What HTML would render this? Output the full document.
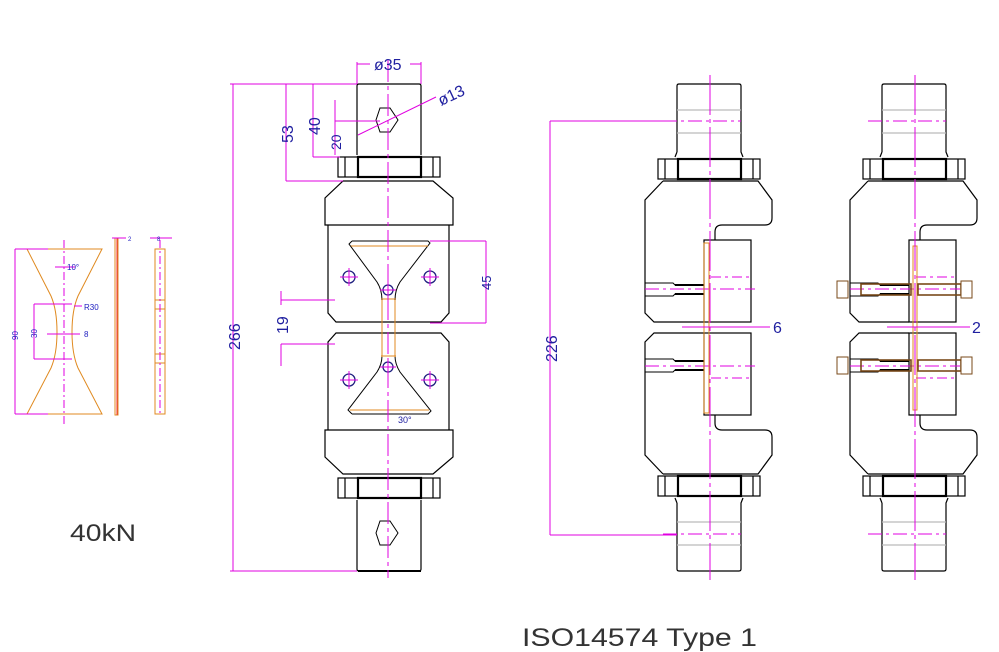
<!DOCTYPE html>
<html><head><meta charset="utf-8"><style>
html,body{margin:0;padding:0;background:#fff;}
svg{display:block;}
text{font-family:"Liberation Sans",sans-serif;}
</style></head><body>
<svg width="999" height="652" viewBox="0 0 999 652" xmlns="http://www.w3.org/2000/svg">
<defs>
<g id="chalf" fill="none" stroke="#000" stroke-width="1.2">
  <path d="M677,152 L677,86 Q677,84 679,84 L739,84 Q741,84 741,86 L741,152 L743,157 M677,152 L675,157"/>
  <line x1="677" y1="110" x2="741" y2="110" stroke="#bbb"/>
  <line x1="677" y1="133" x2="741" y2="133" stroke="#bbb"/>
  <rect x="658" y="159" width="102" height="20"/>
  <line x1="665" y1="159" x2="665" y2="179"/>
  <line x1="753" y1="159" x2="753" y2="179"/>
  <rect x="678" y="159" width="63" height="20" stroke-width="2.2"/>
  <path d="M663,181 L758,181 L772,200 L772,218 Q772,225 765,225 L722,225 Q715,225 715,232 L715,240"/>
  <path d="M663,181 L645,200 L645,313 L654,322 L704,322"/>
  <rect x="704" y="240" width="47" height="82"/>
  <path d="M645,283 L673,283 L675,285 L704,285 M645,296 L673,296 L675,294 L704,294" stroke-width="1"/>
  <line x1="675" y1="285" x2="704" y2="285" stroke-width="2"/>
  <line x1="675" y1="294" x2="704" y2="294" stroke-width="2"/>
  <line x1="645" y1="289" x2="755" y2="289" stroke="#e000e0" stroke-width="1" stroke-dasharray="14,4,3,4"/>
  <line x1="711" y1="277" x2="750" y2="277" stroke="#e000e0" stroke-width="1" stroke-dasharray="10,4,3,4"/>
  <line x1="663" y1="121" x2="741" y2="121" stroke="#e000e0" stroke-width="1" stroke-dasharray="14,4,3,4"/>
</g>
<g id="mhalf" fill="none" stroke="#000" stroke-width="1.2">
  <path d="M357,155 L357,86 Q357,84 359,84 L419,84 Q421,84 421,86 L421,155"/>
  <rect x="338" y="157" width="102" height="20"/>
  <line x1="345" y1="157" x2="345" y2="177"/>
  <line x1="433" y1="157" x2="433" y2="177"/>
  <rect x="358" y="157" width="63" height="20" stroke-width="2.2"/>
  <path d="M343,181 L433,181 L453,198 L453,225 L325,225 L325,198 Z"/>
  <path d="M328,225 L328,313 L336,322 L441,322 L449,313 L449,225"/>
</g>
</defs>

<g fill="none" stroke="#e08a20" stroke-width="1">
  <path d="M27,249 L102,249 L78,296 Q72,310 72,332 Q72,354 78,368 L102,414 L27,414 L51,368 Q57,354 57,332 Q57,310 51,296 Z"/>
  <rect x="115" y="238" width="3" height="177"/>
  <rect x="155" y="249" width="10" height="165"/>
  <line x1="155" y1="300" x2="165" y2="300"/><line x1="155" y1="309" x2="165" y2="309"/>
  <line x1="155" y1="354" x2="165" y2="354"/><line x1="155" y1="363" x2="165" y2="363"/>
</g>
<line x1="117" y1="238" x2="117" y2="415" stroke="#f03030" stroke-width="1"/>
<g stroke="#e000e0" stroke-width="1" fill="none">
  <line x1="64" y1="240" x2="64" y2="425" stroke-dasharray="8,3,2,3"/>
  <line x1="15" y1="249" x2="15" y2="414"/>
  <line x1="15" y1="249" x2="48" y2="249"/><line x1="15" y1="414" x2="48" y2="414"/>
  <line x1="34" y1="304" x2="72" y2="304"/><line x1="34" y1="359" x2="72" y2="359"/>
  <line x1="34" y1="304" x2="34" y2="359"/>
  <line x1="47" y1="334" x2="80" y2="334"/>
  <line x1="74" y1="306" x2="82" y2="306"/>
  <line x1="55" y1="267" x2="75" y2="267"/>
  <line x1="112" y1="238" x2="126" y2="238"/><line x1="150" y1="238" x2="172" y2="238"/>
  <line x1="160" y1="240" x2="160" y2="414" stroke-dasharray="8,3,2,3"/>
</g>
<g fill="#2020c0" font-size="8">
  <text x="84" y="310">R30</text>
  <text x="84" y="337">8</text>
  <text x="67" y="270">10°</text>
  <text x="128" y="241" font-size="6">2</text>
  <text x="157" y="241" font-size="6">8</text>
  <text transform="translate(18,340) rotate(-90)">90</text>
  <text transform="translate(37,338) rotate(-90)">30</text>
</g>
<text x="70" y="541" font-size="24" fill="#333" textLength="66" lengthAdjust="spacingAndGlyphs">40kN</text>

<use href="#mhalf"/>
<use href="#mhalf" transform="translate(0,655) scale(1,-1)"/>
<g fill="none" stroke="#000" stroke-width="1">
  <path d="M352,241 L428,241 L430,243 L400,282 Q395,290 395,300 L395,322 M352,241 L349,244 L377,282 Q382,290 382,300 L382,322"/>
  <path d="M352,414 L428,414 L431,411 L400,372 Q395,364 395,356 L395,335 M352,414 L348,410 L377,372 Q382,364 382,356 L382,335"/>
</g>
<g stroke="#e08a20" stroke-width="1">
  <line x1="351" y1="246" x2="428" y2="246"/>
  <line x1="350" y1="410" x2="429" y2="410"/>
  <line x1="382" y1="300" x2="382" y2="357"/><line x1="395" y1="300" x2="395" y2="357"/>
  <line x1="381" y1="299" x2="396" y2="299"/><line x1="381" y1="356" x2="396" y2="356"/>
</g>
<g fill="none" stroke="#202080" stroke-width="1.3">
  <circle cx="349" cy="277" r="6"/><circle cx="430" cy="277" r="6"/><circle cx="388" cy="290" r="5"/>
  <circle cx="349" cy="380" r="6"/><circle cx="430" cy="380" r="6"/><circle cx="388" cy="367" r="5"/>
</g>
<g stroke="#e000e0" stroke-width="1">
  <path d="M340,277h18M349,268v18M421,277h18M430,268v18M380,290h16M388,282v16M340,380h18M349,371v18M421,380h18M430,371v18M380,367h16M388,359v16"/>
</g>
<path d="M380,108 L390,108 L398,120 L390,132 L380,132 L376,120 Z M380,521 L390,521 L398,533 L390,545 L380,545 L376,533 Z" fill="none" stroke="#000" stroke-width="1"/>
<line x1="358" y1="571" x2="421" y2="571" stroke="#000" stroke-width="2"/>
<line x1="388" y1="60" x2="388" y2="578" stroke="#e000e0" stroke-width="1" stroke-dasharray="22,4,4,4"/>
<g stroke="#e000e0" stroke-width="1" fill="none">
  <line x1="233" y1="84" x2="233" y2="571"/>
  <line x1="230" y1="84" x2="357" y2="84"/><line x1="230" y1="571" x2="357" y2="571"/>
  <line x1="286" y1="84" x2="286" y2="181"/><line x1="286" y1="181" x2="343" y2="181"/>
  <line x1="313" y1="84" x2="313" y2="157"/><line x1="313" y1="157" x2="340" y2="157"/>
  <line x1="335" y1="100" x2="335" y2="155"/><line x1="335" y1="121" x2="380" y2="121"/>
  <line x1="357" y1="62" x2="357" y2="84"/><line x1="421" y1="62" x2="421" y2="84"/>
  <line x1="357" y1="64" x2="370" y2="64"/><line x1="410" y1="64" x2="421" y2="64"/>
  <line x1="358" y1="135" x2="436" y2="97"/>
  <line x1="430" y1="241" x2="486" y2="241"/><line x1="430" y1="323" x2="486" y2="323"/>
  <line x1="486" y1="241" x2="486" y2="323"/>
  <line x1="281" y1="291" x2="281" y2="305"/><line x1="281" y1="300" x2="335" y2="300"/>
  <line x1="281" y1="344" x2="335" y2="344"/><line x1="281" y1="344" x2="281" y2="366"/>
</g>
<g fill="#2020a0" font-size="16">
  <text x="374" y="70">ø35</text>
  <text transform="translate(441,106) rotate(-25)">ø13</text>
  <text transform="translate(240,350) rotate(-90)">266</text>
  <text transform="translate(293,143) rotate(-90)">53</text>
  <text transform="translate(320,135) rotate(-90)">40</text>
  <text transform="translate(341,150) rotate(-90)" font-size="14">20</text>
  <text transform="translate(491,290) rotate(-90)" font-size="13">45</text>
  <text transform="translate(288,334) rotate(-90)">19</text>
  <text x="398" y="423" font-size="9">30°</text>
</g>

<use href="#chalf"/>
<use href="#chalf" transform="translate(0,655) scale(1,-1)"/>
<rect x="704" y="243" width="5" height="170" fill="none" stroke="#e08a20" stroke-width="1"/>
<line x1="710" y1="75" x2="710" y2="580" stroke="#e000e0" stroke-width="1" stroke-dasharray="40,4,4,4"/>
<g stroke="#e000e0" stroke-width="1">
  <line x1="550" y1="121" x2="677" y2="121"/><line x1="550" y1="535" x2="677" y2="535"/>
  <line x1="550" y1="121" x2="550" y2="535"/>
  <line x1="682" y1="327" x2="770" y2="327"/>
</g>
<text transform="translate(557,362) rotate(-90)" font-size="16" fill="#2020a0">226</text>
<text x="773" y="333" font-size="16" fill="#2020a0">6</text>

<g transform="translate(205,0)"><use href="#chalf"/><use href="#chalf" transform="translate(0,655) scale(1,-1)"/></g>
<rect x="913" y="246" width="4" height="164" fill="none" stroke="#e08a20" stroke-width="1"/>
<g fill="none" stroke="#7a4a1a" stroke-width="1.6">
  <rect x="861" y="284" width="50" height="11"/><rect x="918" y="284" width="43" height="11"/>
  <rect x="861" y="360" width="50" height="11"/><rect x="918" y="360" width="43" height="11"/>
</g>
<g fill="#fff" stroke="#7a4a1a" stroke-width="1">
  <rect x="837" y="281" width="11" height="17"/><rect x="961" y="281" width="11" height="17"/>
  <rect x="837" y="357" width="11" height="17"/><rect x="961" y="357" width="11" height="17"/>
</g>
<line x1="915" y1="75" x2="915" y2="580" stroke="#e000e0" stroke-width="1" stroke-dasharray="40,4,4,4"/>
<line x1="887" y1="327" x2="970" y2="327" stroke="#e000e0" stroke-width="1"/>
<text x="972" y="333" font-size="16" fill="#2020a0">2</text>

<text x="522" y="646" font-size="25" fill="#333" textLength="235" lengthAdjust="spacingAndGlyphs">ISO14574  Type  1</text>
</svg>
</body></html>
